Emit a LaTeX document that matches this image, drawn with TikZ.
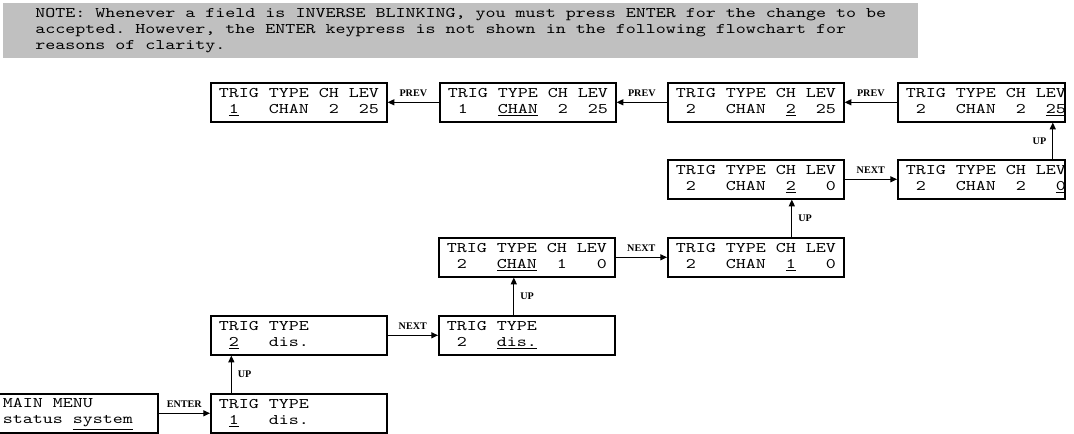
\documentclass[tikz,border=0pt]{standalone}
\usepackage{fontspec}
\setmainfont{Liberation Serif}
\newfontfamily\monof[FakeStretch=1.3]{lmmono10-regular.otf}
\usetikzlibrary{arrows.meta}
\definecolor{notegray}{RGB}{192,192,192}
\newcommand\bx[3]{\makebox[#1][l]{\hspace{6pt}\begin{tabular}{@{}l@{}}#2\\#3\end{tabular}}}
\begin{document}
\begin{tikzpicture}[x=0.75pt,y=-0.75pt,
  lcd/.style={draw, line width=1.2pt, inner sep=0pt, minimum height=29.25pt, anchor=north west,
    font=\monof\fontsize{11}{12}\selectfont\frenchspacing},
  notebox/.style={fill=notegray, inner xsep=24pt, inner ysep=0pt, minimum height=41.25pt,
    anchor=north west, align=left, font=\monof\fontsize{11}{12}\selectfont\frenchspacing},
  arr/.style={line width=0.8pt, -{Triangle[length=5pt,width=4.5pt]}},
  lbl/.style={font=\fontsize{7.6}{8}\selectfont\bfseries, inner sep=1.5pt}]
\useasboundingbox (0,0) rectangle (1074,434);

\node[notebox] (note) at (3,3) {NOTE: Whenever a field is INVERSE BLINKING, you must press ENTER for the change to be\\accepted. However, the ENTER keypress is not shown in the following flowchart for\\reasons of clarity.};

% top row
\node[lcd] (b1) at (210,82) {\bx{132pt}{TRIG TYPE CH LEV}{~\underline{1}~~~CHAN~~2~~25}};
\node[lcd] (b2) at (439,82) {\bx{132pt}{TRIG TYPE CH LEV}{~1~~~\underline{CHAN}~~2~~25}};
\node[lcd] (b3) at (667,82) {\bx{132pt}{TRIG TYPE CH LEV}{~2~~~CHAN~~\underline{2}~~25}};
\node[lcd] (b4) at (897,82) {\bx{125.25pt}{TRIG TYPE CH LEV}{~2~~~CHAN~~2~~\underline{25}}};
% second row
\node[lcd] (b5) at (667,159) {\bx{132pt}{TRIG TYPE CH LEV}{~2~~~CHAN~~\underline{2}~~~0}};
\node[lcd] (b6) at (897,159) {\bx{125.25pt}{TRIG TYPE CH LEV}{~2~~~CHAN~~2~~~\underline{0}}};
% third row
\node[lcd] (b7) at (438,237) {\bx{132pt}{TRIG TYPE CH LEV}{~2~~~\underline{CHAN}~~1~~~0}};
\node[lcd] (b8) at (667,237) {\bx{132pt}{TRIG TYPE CH LEV}{~2~~~CHAN~~\underline{1}~~~0}};
% fourth row
\node[lcd] (b10) at (210,315) {\bx{132pt}{TRIG TYPE}{~\underline{2}~~~dis.}};
\node[lcd] (b9) at (438,315) {\bx{132pt}{TRIG TYPE}{~2~~~\underline{dis.}}};
% fifth row
\node[lcd] (mm) at (-6,393) {\bx{122.25pt}{MAIN MENU}{status \underline{system}}};
\node[lcd] (b11) at (210,393) {\bx{132pt}{TRIG TYPE}{~\underline{1}~~~dis.}};

% connectors
\draw[arr] (mm.east) -- node[lbl, midway, above=2.5pt] {ENTER} (b11.west);
\draw[arr] ([xshift=-50.6pt]b11.north) -- node[lbl, midway, right=3pt] {UP} ([xshift=-50.6pt]b10.south);
\draw[arr] (b10.east) -- node[lbl, midway, above=2.5pt] {NEXT} (b9.west);
\draw[arr] ([xshift=-9.75pt]b9.north) -- node[lbl, midway, right=3pt] {UP} ([xshift=-9.75pt]b7.south);
\draw[arr] (b7.east) -- node[lbl, midway, above=2.5pt] {NEXT} (b8.west);
\draw[arr] ([xshift=27pt]b8.north) -- node[lbl, midway, right=3pt] {UP} ([xshift=27pt]b5.south);
\draw[arr] (b5.east) -- node[lbl, midway, above=2.5pt] {NEXT} (b6.west);
\draw[arr] ([xshift=53.6pt]b6.north) -- node[lbl, midway, left=3pt] {UP} ([xshift=53.6pt]b4.south);
\draw[arr] (b4.west) -- node[lbl, midway, above=2.5pt] {PREV} (b3.east);
\draw[arr] (b3.west) -- node[lbl, midway, above=2.5pt] {PREV} (b2.east);
\draw[arr] (b2.west) -- node[lbl, midway, above=2.5pt] {PREV} (b1.east);
\end{tikzpicture}
\end{document}
